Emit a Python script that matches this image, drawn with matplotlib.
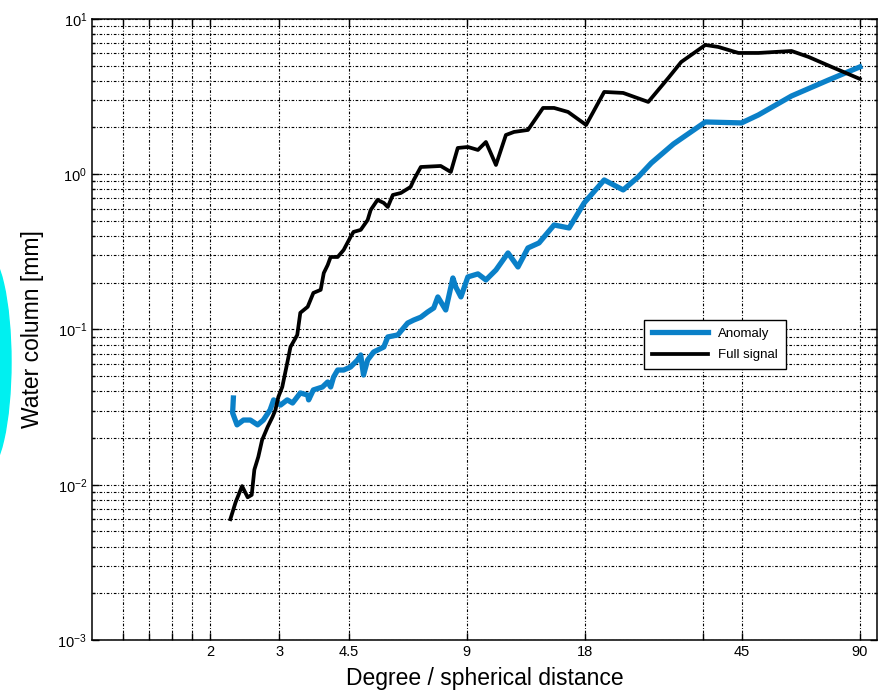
import matplotlib
matplotlib.use("Agg")
import matplotlib.pyplot as plt
from matplotlib.patches import Ellipse
from matplotlib.ticker import FixedLocator, NullLocator, LogLocator

plt.rcParams["font.family"] = ["Liberation Sans", "DejaVu Sans"]
plt.rcParams["mathtext.fontset"] = "custom"
plt.rcParams["mathtext.rm"] = "Liberation Sans"

# full signal (black)
full_x = [2.25, 2.32, 2.41, 2.49, 2.55, 2.59, 2.65, 2.71, 2.80, 2.88, 2.93,
          2.98, 3.05, 3.14, 3.20, 3.33, 3.39, 3.54, 3.66, 3.82, 3.89, 3.98,
          4.05, 4.22, 4.37, 4.55, 4.63, 4.83, 5.03, 5.12, 5.33, 5.53, 5.66,
          5.83, 6.11, 6.47, 6.59, 6.87, 7.72, 8.19, 8.53, 9.05, 9.60, 10.06,
          10.67, 11.31, 11.86, 12.87, 14.06, 15.0, 16.28, 18.10, 20.12,
          22.49, 26.05, 29.30, 31.6, 36.4, 39.3, 44.2, 49.7, 60.3, 66.7,
          76.3, 90.0]
full_y = [0.0060, 0.0077, 0.0098, 0.0083, 0.0086, 0.0125, 0.0151, 0.0194,
          0.0236, 0.0273, 0.0303, 0.0367, 0.0426, 0.0608, 0.0771, 0.0922,
          0.128, 0.140, 0.172, 0.180, 0.231, 0.260, 0.293, 0.293, 0.325,
          0.394, 0.425, 0.438, 0.507, 0.588, 0.683, 0.653, 0.615, 0.735,
          0.757, 0.828, 0.918, 1.113, 1.130, 1.034, 1.476, 1.498, 1.433,
          1.613, 1.147, 1.789, 1.872, 1.928, 2.672, 2.672, 2.518, 2.076,
          3.388, 3.338, 2.921, 4.169, 5.284, 6.80, 6.60, 6.04, 6.04, 6.22,
          5.69, 4.91, 4.11]

# anomaly (blue)
anom_x = [2.29, 2.28, 2.34, 2.43, 2.53, 2.64, 2.73, 2.84, 2.90, 3.02, 3.14,
          3.24, 3.39, 3.54, 3.56, 3.66, 3.86, 3.98, 4.05, 4.12, 4.22, 4.37,
          4.55, 4.74, 4.83, 4.91, 5.03, 5.21, 5.53, 5.66, 6.00, 6.36, 6.59,
          6.87, 7.15, 7.41, 7.59, 7.95, 8.29, 8.43, 8.69, 9.05, 9.60, 10.06,
          10.67, 11.45, 12.14, 12.87, 13.73, 15.0, 16.38, 17.89, 20.12,
          22.49, 24.56, 26.51, 30.2, 36.4, 45.0, 49.7, 60.3, 75.0, 90.0]
anom_y = [0.0362, 0.0290, 0.0243, 0.0261, 0.0261, 0.0243, 0.0261, 0.0303,
          0.0352, 0.0326, 0.0352, 0.0336, 0.0390, 0.0378, 0.0352, 0.0408,
          0.0426, 0.0459, 0.0426, 0.0494, 0.0548, 0.0548, 0.0573, 0.0636,
          0.0685, 0.0509, 0.0636, 0.0716, 0.0771, 0.0895, 0.0922, 0.110,
          0.115, 0.120, 0.1296, 0.1376, 0.162, 0.1335, 0.2146, 0.188, 0.162,
          0.218, 0.228, 0.2084, 0.2416, 0.311, 0.2527, 0.335, 0.3607, 0.471,
          0.4506, 0.653, 0.918, 0.792, 0.960, 1.18, 1.566, 2.17, 2.14, 2.41,
          3.19, 4.05, 4.91]

x_ticks = [1.2, 1.4, 1.6, 1.8, 2, 3, 4.5, 9, 18, 36, 45, 90]
x_labels = ["", "", "", "", "2", "3", "4.5", "9", "18", "", "45", "90"]

grid_style = (0, (2.4, 1.6, 0.8, 1.6))


def make_graph():
    fig = plt.figure(figsize=(8.81, 6.97), dpi=100)
    ax = fig.add_axes([0.1044, 0.0818, 0.891, 0.891])

    ax.plot(anom_x, anom_y, color="#0a80c8", lw=3.8, label="Anomaly")
    ax.plot(full_x, full_y, color="black", lw=2.7, label="Full signal")

    ax.set_xscale("log")
    ax.set_yscale("log")
    ax.set_xlim(1, 99.5)
    ax.set_ylim(1e-3, 1e1)

    ax.xaxis.set_major_locator(FixedLocator(x_ticks))
    ax.set_xticklabels(x_labels)
    ax.xaxis.set_minor_locator(NullLocator())
    ax.yaxis.set_major_locator(LogLocator(base=10))
    ax.yaxis.set_minor_locator(LogLocator(base=10, subs=range(2, 10)))

    ax.grid(True, which="major", color="black", lw=0.8, ls=grid_style)
    ax.grid(True, which="minor", axis="y", color="black", lw=0.8,
            ls=grid_style)

    ax.tick_params(which="both", direction="in", top=True, right=True,
                   labelsize=10.5, width=1)
    ax.tick_params(which="major", length=5)
    ax.tick_params(which="minor", length=2.5)
    for spine in ax.spines.values():
        spine.set_linewidth(1.1)

    ax.set_xlabel("Degree / spherical distance", fontsize=16.5, labelpad=6)
    ax.set_ylabel("Water column [mm]", fontsize=16.5, labelpad=10)

    leg = ax.legend(loc="center", bbox_to_anchor=(0.794, 0.476),
                    fontsize=9.5, fancybox=False, framealpha=1,
                    edgecolor="black", handlelength=4.2, borderpad=0.6,
                    labelspacing=0.7)
    leg.get_frame().set_linewidth(1.0)

    # cyan blob cut off at the left edge of the picture
    blob = Ellipse((-14, 335), 50, 220, transform=None, color="#00f0f0",
                   zorder=0)
    fig.patches.append(blob)

    fig.savefig("out.png", dpi=100)


def main():
    make_graph()


if __name__ == "__main__":
    main()
